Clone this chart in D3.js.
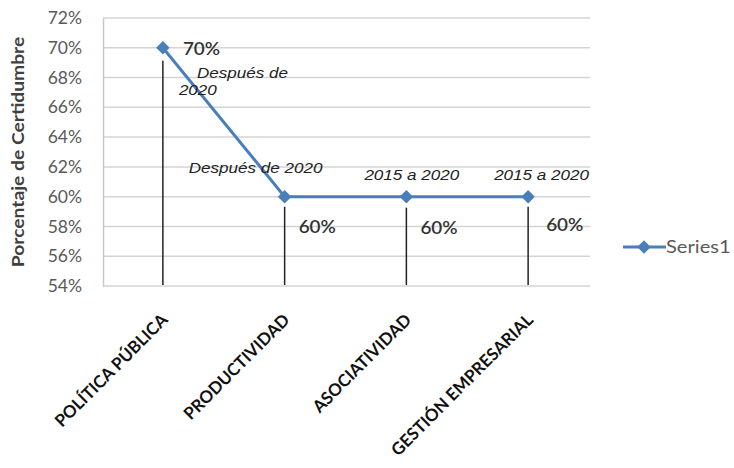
<!DOCTYPE html>
<html>
<head>
<meta charset="utf-8">
<script src="https://cdn.jsdelivr.net/npm/d3@7"></script>
<style>
  html, body { margin: 0; padding: 0; background: #fff; }
  svg { display: block; }
</style>
</head>
<body>
<svg id="chart" width="734" height="468"></svg>
<script>
// Categories, values and annotation texts
const categories = ["POLÍTICA PÚBLICA", "PRODUCTIVIDAD", "ASOCIATIVIDAD", "GESTIÓN EMPRESARIAL"];
const values = [0.70, 0.60, 0.60, 0.60];
const periodNotes = [["Después de", "2020"], ["Después de 2020"], ["2015 a 2020"], ["2015 a 2020"]];
const yTicks = [0.54, 0.56, 0.58, 0.60, 0.62, 0.64, 0.66, 0.68, 0.70, 0.72];
const seriesName = "Series1";

const svg = d3.select("#chart");
const margin = { left: 103, right: 144, top: 18, bottom: 182 };
const W = 734, H = 468;
const sans = "Lato, 'Open Sans', sans-serif";

const x = d3.scaleBand().domain(categories).range([margin.left, W - margin.right]);
const y = d3.scaleLinear().domain([0.54, 0.72]).range([H - margin.bottom, margin.top]);
const cx = d => x(d) + x.bandwidth() / 2 - 1;

const lineColor = "#4a7ebb";

// Widen text horizontally by a factor, keeping its anchor
function stretch(sel, k) {
  sel.each(function () {
    const len = this.getComputedTextLength();
    d3.select(this).attr("textLength", len * k).attr("lengthAdjust", "spacingAndGlyphs");
  });
}

// Horizontal gridlines
svg.append("g")
  .selectAll("line")
  .data(yTicks)
  .join("line")
  .attr("x1", margin.left).attr("x2", W - margin.right)
  .attr("y1", d => y(d)).attr("y2", d => y(d))
  .attr("stroke", "#d4d4d4").attr("stroke-width", 1.5);

// Y axis
const yAxis = d3.axisLeft(y).tickValues(yTicks).tickFormat(d3.format(".0%")).tickSize(0).tickPadding(21);
const yg = svg.append("g").attr("transform", `translate(${margin.left},0)`).call(yAxis);
yg.select(".domain").attr("stroke", "#c8c8c8").attr("stroke-width", 1.5);
yg.selectAll("text")
  .attr("font-family", sans)
  .attr("font-size", 17.5).attr("fill", "#595959");

// Y axis title
svg.append("text")
  .attr("transform", `translate(24,${(y(0.72) + y(0.54)) / 2}) rotate(-90)`)
  .attr("text-anchor", "middle")
  .attr("font-family", sans)
  .attr("font-size", 17.5).attr("font-weight", "bold").attr("fill", "#404040")
  .text("Porcentaje de Certidumbre")
  .call(stretch, 1.1);

// X axis labels, rotated
svg.append("g")
  .selectAll("text")
  .data(categories)
  .join("text")
  .attr("transform", d => `translate(${cx(d) + 6},${H - margin.bottom + 35}) rotate(-45)`)
  .attr("text-anchor", "end")
  .attr("font-family", sans)
  .attr("font-size", 17).attr("font-weight", "bold").attr("fill", "#111")
  .text(d => d);

// Drop lines from each point to the base of the plot
const dropGap = [13, 10, 11, 10];
svg.append("g")
  .selectAll("line")
  .data(categories)
  .join("line")
  .attr("x1", d => cx(d)).attr("x2", d => cx(d))
  .attr("y1", (d, i) => y(values[i]) + dropGap[i])
  .attr("y2", y(0.54) - 1)
  .attr("stroke", "#222").attr("stroke-width", 1.5);

// Series line
const line = d3.line().x((d, i) => cx(categories[i])).y(d => y(d));
svg.append("path")
  .datum(values)
  .attr("d", line)
  .attr("fill", "none").attr("stroke", lineColor).attr("stroke-width", 3);

// Diamond markers
const diamond = d3.symbol().type(d3.symbolDiamond2 || d3.symbolDiamond).size(115);
svg.append("g")
  .selectAll("path")
  .data(values)
  .join("path")
  .attr("transform", (d, i) => `translate(${cx(categories[i])},${y(d)})`)
  .attr("d", diamond)
  .attr("fill", lineColor);

// Value labels
const valueOffsets = [[20, 7], [14, 36], [14, 37], [18, 34]];
svg.append("g")
  .selectAll("text")
  .data(values)
  .join("text")
  .attr("x", (d, i) => cx(categories[i]) + valueOffsets[i][0])
  .attr("y", (d, i) => y(d) + valueOffsets[i][1])
  .attr("font-family", sans)
  .attr("font-size", 18).attr("font-weight", 600).attr("fill", "#333")
  .text(d => d3.format(".0%")(d))
  .call(stretch, 1.05);

// Period annotations (italic)
const noteAnchors = [[34, 30], [-96, -24], [-42, -17], [-34, -17]];
svg.append("g")
  .selectAll("text")
  .data(periodNotes)
  .join("text")
  .attr("font-family", "Arial, 'Liberation Sans', sans-serif")
  .attr("font-size", 14).attr("font-style", "italic").attr("fill", "#222")
  .attr("x", (d, i) => cx(categories[i]) + noteAnchors[i][0])
  .attr("y", (d, i) => y(values[i]) + noteAnchors[i][1])
  .each(function (d, i) {
    const t = d3.select(this);
    d.forEach((s, k) => {
      t.append("tspan")
        .attr("x", cx(categories[i]) + noteAnchors[i][0] - (k > 0 ? 18 : 0))
        .attr("dy", k === 0 ? 0 : 17)
        .text(s);
    });
  })
  .selectAll("tspan")
  .call(stretch, 1.22);

// Legend
const lg = svg.append("g").attr("transform", "translate(623,247)");
lg.append("line").attr("x1", 0).attr("x2", 43).attr("y1", 0).attr("y2", 0)
  .attr("stroke", lineColor).attr("stroke-width", 3);
lg.append("path").attr("transform", "translate(21,0)").attr("d", diamond).attr("fill", lineColor);
lg.append("text").attr("x", 43).attr("y", 6)
  .attr("font-family", sans)
  .attr("font-size", 17.5).attr("fill", "#595959")
  .text(seriesName)
  .call(stretch, 1.15);
</script>
</body>
</html>
